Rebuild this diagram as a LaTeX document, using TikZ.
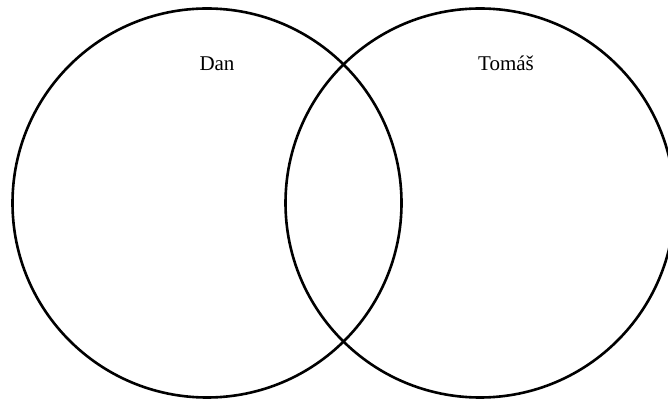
\documentclass[tikz,border=0pt]{standalone}
\usepackage{fontspec}
\setmainfont{Liberation Serif}
\usetikzlibrary{positioning}

\begin{document}
\begin{tikzpicture}[
  x=1pt, y=1pt,
  set/.style={draw, circle, line width=2.6pt, minimum size=389pt, inner sep=0pt},
  lbl/.style={font=\fontsize{21}{25}\selectfont, anchor=base}
]
  \useasboundingbox (0,0) rectangle (668,401);
  \clip (0,0) rectangle (668,401);

  \node[set] (D) at (207,198) {};
  \node[set] (T) at (480,198) {};

  % set labels
  \node[lbl] (Dlbl) at (217,330) {Dan};
  \node[lbl] (Tlbl) at (506,330) {Tomáš};
\end{tikzpicture}
\end{document}
